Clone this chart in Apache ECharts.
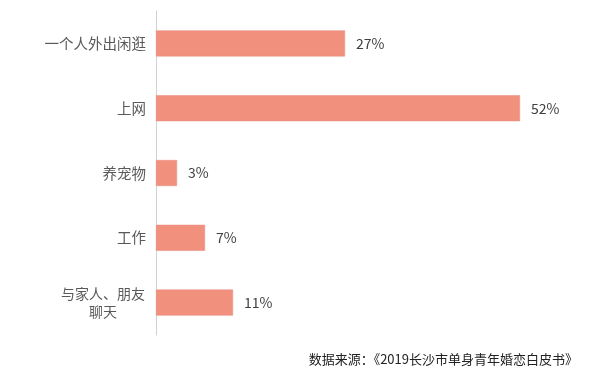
<!DOCTYPE html>
<html>
<head>
<meta charset="utf-8">
<script src="https://cdn.jsdelivr.net/npm/echarts@6/dist/echarts.min.js"></script>
<style>
html,body{margin:0;padding:0;background:#fff;}
#main{width:591px;height:379px;}
</style>
</head>
<body>
<div id="main"></div>
<script>
const categories = ['一个人外出闲逛', '上网', '养宠物', '工作', '与家人、朋友\n聊天'];
const values = [27, 52, 3, 7, 11];
const sourceText = '数据来源：《2019长沙市单身青年婚恋白皮书》';

const chart = echarts.init(document.getElementById('main'));
const font = '"Noto Sans CJK SC", "Noto Sans", sans-serif';
chart.setOption({
  backgroundColor: '#ffffff',
  animation: false,
  grid: { left: 156, right: 15, top: 11, bottom: 44, containLabel: false },
  xAxis: {
    type: 'value', min: 0, max: 60, show: false
  },
  yAxis: {
    type: 'category',
    inverse: true,
    data: categories,
    axisLine: { show: true, lineStyle: { color: '#d0d0d0', width: 1 } },
    axisTick: { show: false },
    axisLabel: {
      margin: 10,
      color: '#595959',
      fontFamily: font,
      fontSize: 14.5,
      lineHeight: 18,
      formatter: function (v) {
        if (v.indexOf('\n') >= 0) {
          return v.split('\n').map(s => '{c|' + s + '}').join('\n');
        }
        return v;
      },
      rich: {
        c: { width: 86, align: 'center', fontSize: 14, lineHeight: 18, color: '#595959', fontFamily: font }
      }
    }
  },
  series: [{
    type: 'bar',
    data: values,
    barWidth: 26,
    itemStyle: { color: '#F2907E', borderColor: '#E8897A', borderWidth: 0.5 },
    label: {
      show: true,
      position: 'right',
      distance: 11,
      color: '#404040',
      fontFamily: font,
      fontSize: 14,
      formatter: '{c}%'
    }
  }],
  graphic: [{
    type: 'text',
    right: 13,
    top: 353,
    style: {
      text: sourceText,
      fill: '#222',
      font: '13px ' + font
    }
  }]
});
</script>
</body>
</html>
